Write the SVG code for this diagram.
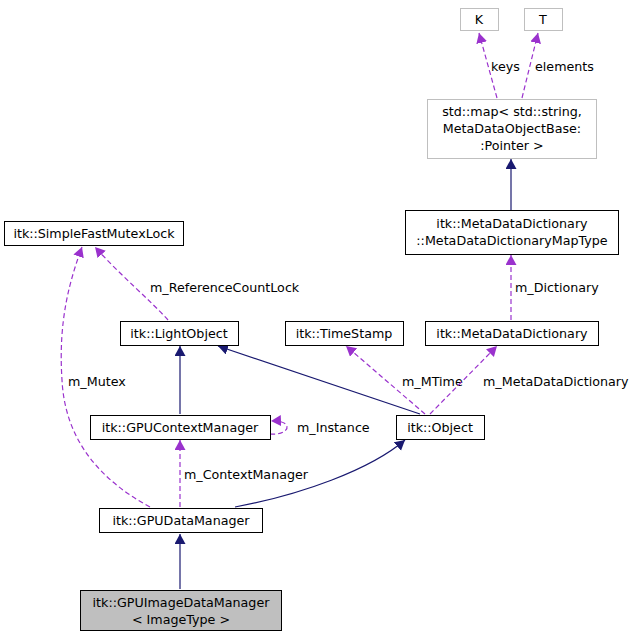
<svg xmlns="http://www.w3.org/2000/svg" width="636" height="637" viewBox="0 0 636 637">
<style>
text{font-family:"DejaVu Sans",sans-serif;font-size:12.7px;fill:#000}
.n{fill:#fff;stroke:#000;stroke-width:1}
.g{fill:#fff;stroke:#bfbfbf;stroke-width:1}
.s{fill:none;stroke:#191970;stroke-width:1.2}
.d{fill:none;stroke:#9a32cd;stroke-width:1.2;stroke-dasharray:5,3}
.c{text-anchor:middle}
</style>
<defs>
<marker id="an" markerWidth="12" markerHeight="12" refX="10" refY="5.5" orient="auto" markerUnits="userSpaceOnUse"><path d="M0,0L10,5.5L0,11z" fill="#191970"/></marker>
<marker id="ap" markerWidth="12" markerHeight="12" refX="10" refY="5.5" orient="auto" markerUnits="userSpaceOnUse"><path d="M0,0L10,5.5L0,11z" fill="#9a32cd"/></marker>
</defs>
<rect width="636" height="637" fill="#fff"/>
<g id="edges">
<path class="d" d="M497,98L479,33" marker-end="url(#ap)"/><text x="491" y="71">keys</text>
<path class="d" d="M522,98L538,33" marker-end="url(#ap)"/><text x="535" y="71">elements</text>
<path class="s" d="M511,210L511,159" marker-end="url(#an)"/>
<path class="d" d="M511,320L511,255" marker-end="url(#ap)"/><text x="515" y="292">m_Dictionary</text>
<path class="d" d="M168,320C150,300 120,275 95,247" marker-end="url(#ap)"/><text x="150" y="292">m_ReferenceCountLock</text>
<path class="s" d="M180,414L180,346" marker-end="url(#an)"/>
<path class="s" d="M420,414L218,346" marker-end="url(#an)"/>
<path class="d" d="M425,414L346,346" marker-end="url(#ap)"/><text x="402" y="386">m_MTime</text>
<path class="d" d="M430,414L497,346" marker-end="url(#ap)"/><text x="483" y="386">m_MetaDataDictionary</text>
<path class="d" d="M270,434C290,436 295,420 271,421" marker-end="url(#ap)"/><text x="297" y="432">m_Instance</text>
<path class="d" d="M150,507C100,480 65,440 62,380C58,320 70,280 82,247" marker-end="url(#ap)"/><text x="68" y="386">m_Mutex</text>
<path class="d" d="M180,507L180,440" marker-end="url(#ap)"/><text x="184" y="479">m_ContextManager</text>
<path class="s" d="M235,507C300,495 370,470 405,440" marker-end="url(#an)"/>
<path class="s" d="M180,589L180,534" marker-end="url(#an)"/>
</g>
<g id="K"><rect class="g" x="460.5" y="8.5" width="38" height="22"/><text class="c" x="479" y="24">K</text></g>
<g id="T"><rect class="g" x="524.5" y="8.5" width="38" height="22"/><text class="c" x="543" y="24">T</text></g>
<g id="map"><rect class="g" x="427.5" y="99.5" width="169" height="59"/><text class="c" x="512" y="116">std::map&lt; std::string,</text><text class="c" x="512" y="133"> MetaDataObjectBase:</text><text class="c" x="512" y="150">:Pointer &gt;</text></g>
<g id="maptype"><rect class="n" x="405.5" y="210.5" width="213" height="44"/><text class="c" x="512" y="228">itk::MetaDataDictionary</text><text class="c" x="512" y="245">::MetaDataDictionaryMapType</text></g>
<g id="mutex"><rect class="n" x="4.5" y="221.5" width="179" height="24"/><text class="c" x="94" y="238">itk::SimpleFastMutexLock</text></g>
<g id="light"><rect class="n" x="120.5" y="321.5" width="118" height="24"/><text class="c" x="179" y="338">itk::LightObject</text></g>
<g id="ts"><rect class="n" x="285.5" y="321.5" width="118" height="24"/><text class="c" x="344" y="338">itk::TimeStamp</text></g>
<g id="mdd"><rect class="n" x="425.5" y="321.5" width="173" height="24"/><text class="c" x="512" y="338">itk::MetaDataDictionary</text></g>
<g id="ctx"><rect class="n" x="90.5" y="415.5" width="180" height="24"/><text class="c" x="180" y="432">itk::GPUContextManager</text></g>
<g id="obj"><rect class="n" x="396.5" y="415.5" width="88" height="24"/><text class="c" x="440" y="432">itk::Object</text></g>
<g id="dm"><rect class="n" x="99.5" y="508.5" width="163" height="24"/><text class="c" x="181" y="525">itk::GPUDataManager</text></g>
<g id="idm"><rect x="80.5" y="590.5" width="201" height="40" fill="#bfbfbf" stroke="#000"/><text class="c" x="181" y="607">itk::GPUImageDataManager</text><text class="c" x="181" y="624">&lt; ImageType &gt;</text></g>
</svg>
